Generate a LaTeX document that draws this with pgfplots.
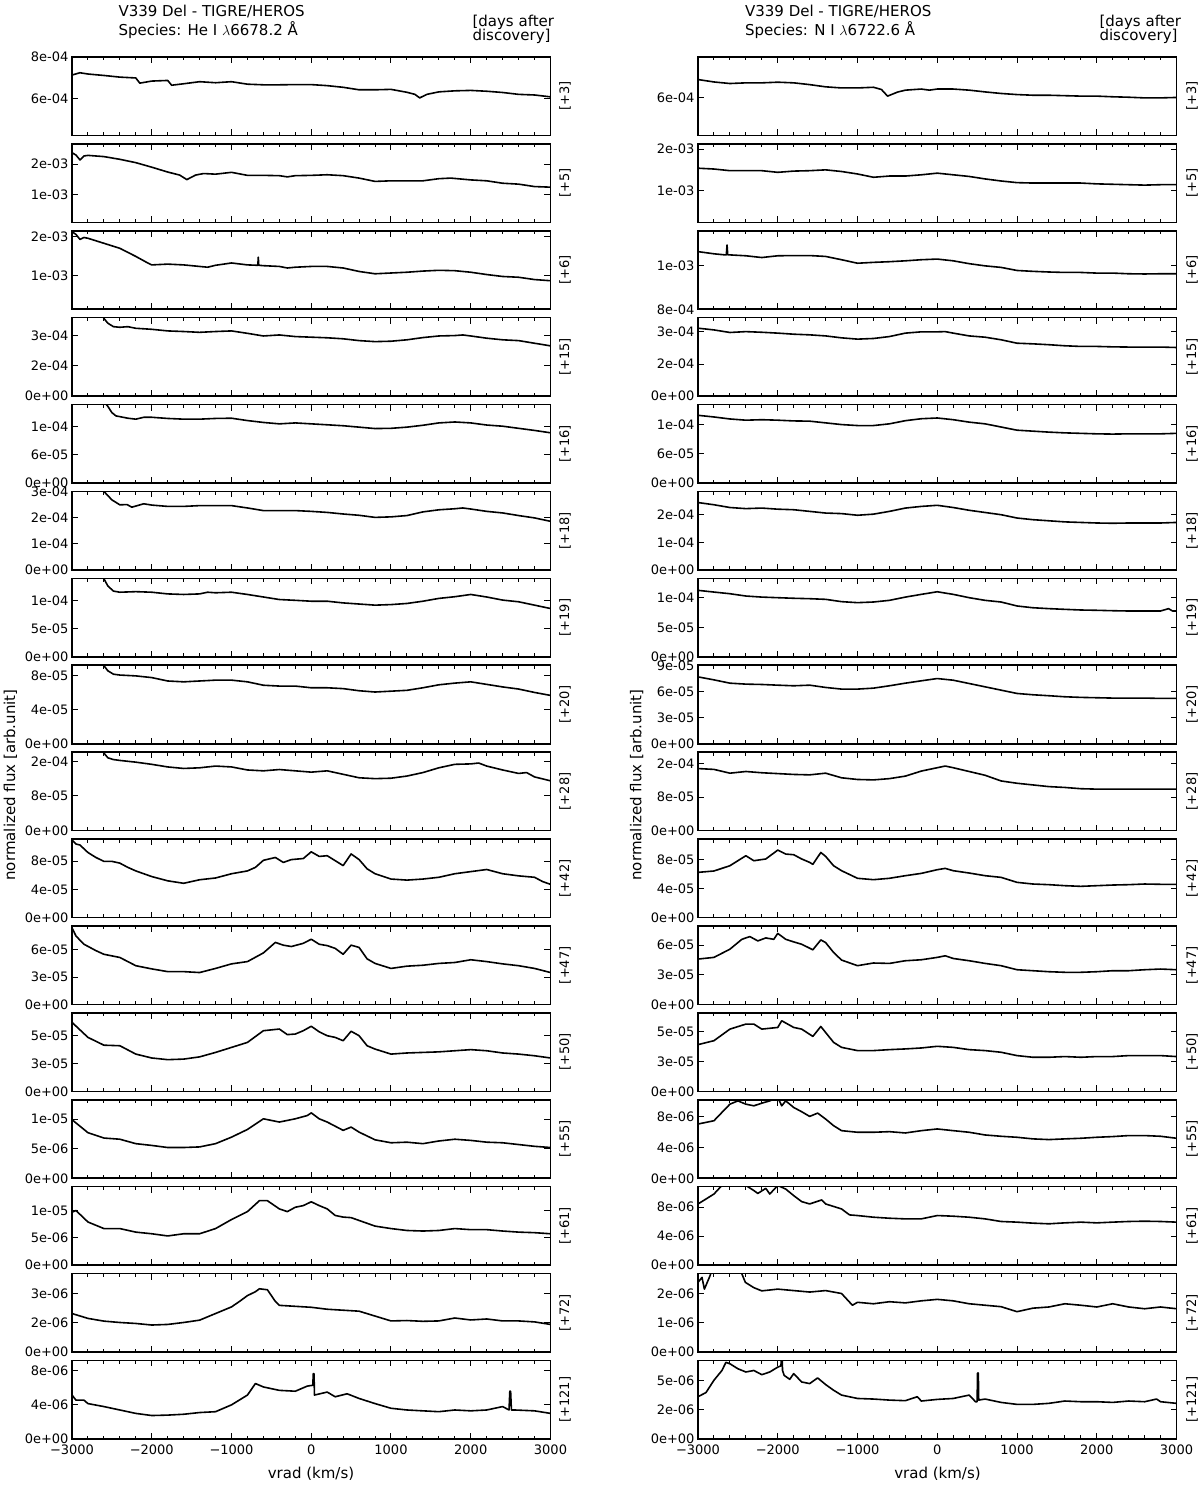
\documentclass[border=0pt]{standalone}
\usepackage{fontspec}
\setmainfont{DejaVu Sans}
\usepackage{pgfplots}
\pgfplotsset{compat=1.18}
\newcommand{\fs}[1]{\fontsize{#1}{#1}\selectfont}
\pgfplotsset{
  panel/.style={
    scale only axis, width=478.5pt, height=78.5pt, anchor=north west,
    xmin=-3000, xmax=3000, ymin=0,
    xtick={-3000,-2000,-1000,0,1000,2000,3000},
    minor x tick num=4,
    xticklabels={},
    axis line style={line width=1.6pt},
    tick style={black, line width=1pt},
    major tick length=6pt, minor tick length=3.5pt,
    tick align=inside,
    yticklabel style={font=\fs{13}},
    xticklabel style={font=\fs{13}, yshift=-2.5pt},
    every axis plot post/.append style={black, line width=1.6pt, line join=round, mark=none},
  },
  bottom/.style={xticklabels={−3000,−2000,−1000,0,1000,2000,3000}},
}
\begin{document}
\begin{tikzpicture}
\useasboundingbox (0,0) rectangle (1200pt,1485pt);
% ================= LEFT COLUMN =================
\begin{axis}[panel, at={(72pt,1428pt)}, ymin=4.22, ymax=8, ytick={6,8}, yticklabels={6e-04,8e-04}]
\addplot coordinates {(-3000,7.13)(-2900,7.24)(-2800,7.18)(-2600,7.11)(-2400,7.03)(-2200,6.99)(-2150,6.74)(-2000,6.84)(-1800,6.87)(-1750,6.64)(-1600,6.71)(-1400,6.81)(-1200,6.76)(-1000,6.81)(-800,6.69)(-600,6.66)(-400,6.66)(-200,6.67)(0,6.67)(200,6.62)(400,6.54)(600,6.42)(800,6.42)(1000,6.44)(1200,6.30)(1300,6.20)(1360,6.03)(1450,6.20)(1600,6.32)(1800,6.37)(2000,6.39)(2200,6.35)(2400,6.29)(2600,6.20)(2800,6.17)(3000,6.08)};
\end{axis}
\begin{axis}[panel, at={(72pt,1341.1pt)}, ymin=0.077, ymax=2.67, ytick={1,2}, yticklabels={1e-03,2e-03}]
\addplot coordinates {(-3000,2.38)(-2950,2.30)(-2900,2.14)(-2850,2.27)(-2800,2.29)(-2600,2.25)(-2400,2.16)(-2200,2.05)(-2000,1.90)(-1800,1.74)(-1650,1.64)(-1560,1.49)(-1450,1.64)(-1350,1.69)(-1200,1.67)(-1000,1.73)(-800,1.63)(-600,1.63)(-400,1.62)(-300,1.58)(-200,1.62)(0,1.63)(200,1.65)(400,1.62)(600,1.54)(800,1.43)(1000,1.45)(1200,1.45)(1400,1.45)(1600,1.52)(1750,1.54)(2000,1.48)(2200,1.45)(2400,1.37)(2600,1.34)(2800,1.26)(3000,1.24)};
\end{axis}
\begin{axis}[panel, at={(72pt,1254.2pt)}, ymin=0.12, ymax=2.154, ytick={1,2}, yticklabels={1e-03,2e-03}]
\addplot coordinates {(-3000,2.13)(-2950,2.06)(-2900,1.93)(-2850,1.98)(-2800,1.96)(-2600,1.83)(-2400,1.70)(-2200,1.49)(-2050,1.32)(-2000,1.27)(-1800,1.29)(-1600,1.27)(-1400,1.23)(-1300,1.21)(-1200,1.26)(-1000,1.32)(-800,1.27)(-670,1.26)(-664,1.47)(-658,1.26)(-600,1.25)(-400,1.23)(-300,1.19)(-200,1.21)(0,1.23)(200,1.23)(400,1.19)(600,1.10)(800,1.04)(1000,1.06)(1200,1.08)(1400,1.11)(1600,1.13)(1800,1.12)(2000,1.08)(2200,1.02)(2400,0.97)(2600,0.95)(2800,0.89)(3000,0.86)};
\end{axis}
\begin{axis}[panel, at={(72pt,1167.3pt)}, ymax=3.885, ytick={0,1.5,3}, yticklabels={0e+00,2e-04,3e-04}]
\addplot coordinates {(-2750,5.0)(-2600,3.85)(-2550,3.61)(-2480,3.44)(-2400,3.41)(-2300,3.44)(-2200,3.36)(-2000,3.31)(-1800,3.23)(-1600,3.20)(-1400,3.16)(-1200,3.20)(-1000,3.23)(-800,3.11)(-600,2.98)(-400,3.03)(-200,2.95)(0,2.92)(200,2.89)(400,2.84)(600,2.75)(800,2.70)(1000,2.72)(1200,2.79)(1400,2.90)(1600,2.98)(1800,3.00)(1900,3.03)(2000,2.98)(2200,2.87)(2400,2.79)(2600,2.75)(2800,2.62)(3000,2.49)};
\end{axis}
\begin{axis}[panel, at={(72pt,1080.4pt)}, ymax=16.7, ytick={0,6,12}, yticklabels={0e+00,6e-05,1e-04}]
\addplot coordinates {(-2700,19)(-2560,16.56)(-2500,15.0)(-2450,14.3)(-2300,13.8)(-2200,13.6)(-2100,14.0)(-2000,14.0)(-1800,13.75)(-1600,13.6)(-1400,13.6)(-1200,13.75)(-1000,13.8)(-800,13.3)(-600,12.9)(-400,12.6)(-200,12.8)(0,12.6)(200,12.4)(400,12.2)(600,11.9)(800,11.6)(1000,11.65)(1200,11.9)(1400,12.3)(1600,12.8)(1800,13.0)(2000,12.8)(2200,12.35)(2400,12.1)(2600,11.65)(2800,11.2)(3000,10.7)};
\end{axis}
\begin{axis}[panel, at={(72pt,993.5pt)}, ymax=3, ytick={0,1,2,3}, yticklabels={0e+00,1e-04,2e-04,3e-04}]
\addplot coordinates {(-2700,3.6)(-2590,2.97)(-2500,2.68)(-2400,2.49)(-2310,2.50)(-2250,2.40)(-2100,2.53)(-2000,2.48)(-1800,2.43)(-1600,2.43)(-1400,2.46)(-1200,2.46)(-1000,2.46)(-800,2.37)(-600,2.27)(-400,2.27)(-200,2.27)(0,2.24)(200,2.20)(400,2.14)(600,2.09)(800,2.01)(1000,2.03)(1200,2.08)(1400,2.22)(1600,2.30)(1800,2.34)(1900,2.37)(2000,2.33)(2200,2.24)(2400,2.18)(2600,2.08)(2800,1.99)(3000,1.86)};
\end{axis}
\begin{axis}[panel, at={(72pt,906.6pt)}, ymax=13.96, ytick={0,5,10}, yticklabels={0e+00,5e-05,1e-04}]
\addplot coordinates {(-2700,17)(-2600,13.9)(-2550,12.6)(-2480,11.7)(-2400,11.5)(-2200,11.6)(-2000,11.5)(-1800,11.2)(-1600,11.1)(-1400,11.2)(-1300,11.5)(-1200,11.4)(-1000,11.5)(-800,11.1)(-600,10.65)(-400,10.2)(-200,10.06)(0,9.9)(200,9.9)(400,9.6)(600,9.4)(800,9.2)(1000,9.3)(1200,9.5)(1400,9.9)(1600,10.4)(1800,10.7)(2000,11.1)(2200,10.65)(2400,10.1)(2600,9.8)(2800,9.2)(3000,8.6)};
\end{axis}
\begin{axis}[panel, at={(72pt,819.7pt)}, ymax=9.25, ytick={0,4,8}, yticklabels={0e+00,4e-05,8e-05}]
\addplot coordinates {(-2700,11)(-2600,9.2)(-2550,8.6)(-2480,8.2)(-2400,8.1)(-2200,8.0)(-2000,7.8)(-1800,7.4)(-1600,7.3)(-1400,7.4)(-1200,7.5)(-1000,7.5)(-800,7.3)(-600,6.9)(-400,6.8)(-200,6.8)(0,6.6)(200,6.6)(400,6.5)(600,6.25)(800,6.1)(1000,6.2)(1200,6.3)(1400,6.6)(1600,6.95)(1800,7.15)(2000,7.3)(2200,7.0)(2400,6.7)(2600,6.45)(2800,6.05)(3000,5.7)};
\end{axis}
\begin{axis}[panel, at={(72pt,732.8pt)}, ymax=18.1, ytick={0,8,16}, yticklabels={0e+00,8e-05,2e-04}]
\addplot coordinates {(-2700,21)(-2600,17.9)(-2550,16.8)(-2480,16.4)(-2400,16.2)(-2200,15.8)(-2000,15.3)(-1800,14.7)(-1600,14.35)(-1400,14.5)(-1200,14.9)(-1000,14.7)(-800,14.0)(-600,13.8)(-400,14.1)(-200,13.8)(0,13.5)(200,13.8)(400,13.0)(600,12.2)(800,12.0)(1000,12.1)(1200,12.6)(1400,13.4)(1600,14.5)(1800,15.3)(2000,15.4)(2100,15.6)(2200,14.9)(2400,14.0)(2600,13.2)(2700,13.4)(2800,12.4)(3000,11.5)};
\end{axis}
\begin{axis}[panel, at={(72pt,645.9pt)}, ymax=11.1, ytick={0,4,8}, yticklabels={0e+00,4e-05,8e-05}]
\addplot coordinates {(-3000,10.96)(-2950,10.4)(-2900,10.26)(-2800,9.2)(-2700,8.5)(-2600,7.95)(-2500,7.95)(-2400,7.7)(-2300,7.1)(-2200,6.6)(-2000,5.8)(-1800,5.2)(-1600,4.85)(-1400,5.35)(-1200,5.6)(-1000,6.2)(-800,6.6)(-700,7.1)(-600,8.1)(-450,8.5)(-350,7.8)(-250,8.2)(-100,8.35)(0,9.3)(100,8.65)(200,8.75)(300,8.05)(400,7.35)(500,9.0)(600,8.2)(700,6.9)(800,6.2)(1000,5.45)(1200,5.3)(1400,5.45)(1600,5.7)(1800,6.2)(2000,6.5)(2200,6.8)(2400,6.2)(2600,5.9)(2800,5.7)(2900,5.1)(3000,4.7)};
\end{axis}
\begin{axis}[panel, at={(72pt,559pt)}, ymax=8.6, ytick={0,3,6}, yticklabels={0e+00,3e-05,6e-05}]
\addplot coordinates {(-3000,8.4)(-2950,7.5)(-2850,6.6)(-2700,5.9)(-2600,5.5)(-2400,5.15)(-2200,4.25)(-2000,3.9)(-1800,3.6)(-1600,3.6)(-1400,3.5)(-1200,3.95)(-1000,4.45)(-800,4.7)(-600,5.65)(-450,6.8)(-350,6.5)(-250,6.35)(-100,6.7)(0,7.15)(100,6.6)(200,6.45)(300,6.15)(400,5.5)(500,6.5)(600,6.25)(700,5.0)(800,4.5)(1000,3.95)(1200,4.2)(1400,4.3)(1600,4.5)(1800,4.6)(2000,4.9)(2200,4.7)(2400,4.45)(2600,4.25)(2800,3.95)(3000,3.5)};
\end{axis}
\begin{axis}[panel, at={(72pt,472.1pt)}, ymax=7.05, ytick={0,2.5,5}, yticklabels={0e+00,3e-05,5e-05}]
\addplot coordinates {(-3000,6.2)(-2800,4.85)(-2600,4.15)(-2400,4.1)(-2200,3.35)(-2000,3.0)(-1800,2.85)(-1600,2.9)(-1400,3.1)(-1200,3.5)(-1000,3.95)(-800,4.4)(-600,5.45)(-400,5.6)(-300,5.1)(-200,5.15)(-100,5.45)(0,5.85)(100,5.35)(200,5.0)(300,4.85)(400,4.55)(500,5.4)(600,5.0)(700,4.1)(800,3.8)(1000,3.35)(1200,3.45)(1400,3.5)(1600,3.55)(1800,3.65)(2000,3.75)(2200,3.65)(2400,3.45)(2600,3.35)(2800,3.2)(3000,3.0)};
\end{axis}
\begin{axis}[panel, at={(72pt,385.2pt)}, ymax=13.26, ytick={0,5,10}, yticklabels={0e+00,5e-06,1e-05}]
\addplot coordinates {(-3000,9.9)(-2900,8.8)(-2800,7.7)(-2600,6.8)(-2400,6.6)(-2200,5.85)(-2000,5.55)(-1800,5.2)(-1600,5.2)(-1400,5.3)(-1200,5.85)(-1000,6.95)(-800,8.25)(-600,10.05)(-400,9.5)(-200,10.05)(-50,10.6)(0,11.05)(100,10.05)(200,9.5)(300,8.8)(400,8.1)(500,8.65)(600,7.8)(800,6.5)(1000,6.0)(1200,6.1)(1400,5.85)(1600,6.3)(1800,6.6)(2000,6.4)(2200,6.1)(2400,6.0)(2600,5.7)(2800,5.4)(3000,5.2)};
\end{axis}
\begin{axis}[panel, at={(72pt,298.3pt)}, ymax=14.36, ytick={0,5,10}, yticklabels={0e+00,5e-06,1e-05}]
\addplot coordinates {(-3000,9.7)(-2950,10.0)(-2800,7.9)(-2600,6.7)(-2400,6.7)(-2200,6.05)(-2000,5.75)(-1800,5.35)(-1600,5.75)(-1400,5.75)(-1200,6.7)(-1000,8.35)(-800,9.8)(-650,11.8)(-550,11.8)(-400,10.3)(-300,9.8)(-200,10.6)(-100,10.9)(0,11.6)(100,10.9)(200,10.3)(300,9.1)(400,8.8)(500,8.7)(800,7.15)(1000,6.7)(1200,6.35)(1400,6.25)(1600,6.35)(1800,6.7)(2000,6.5)(2200,6.5)(2400,6.25)(2600,6.05)(2800,5.95)(3000,5.75)};
\end{axis}
\begin{axis}[panel, at={(72pt,211.4pt)}, ymax=4.03, ytick={0,1.5,3}, yticklabels={0e+00,2e-06,3e-06}]
\addplot coordinates {(-3000,1.98)(-2800,1.73)(-2600,1.59)(-2400,1.52)(-2200,1.47)(-2000,1.39)(-1800,1.42)(-1600,1.52)(-1400,1.64)(-1200,1.98)(-1000,2.32)(-900,2.6)(-800,2.9)(-700,3.1)(-650,3.25)(-550,3.2)(-500,2.9)(-450,2.6)(-400,2.4)(-200,2.35)(0,2.3)(200,2.2)(400,2.15)(600,2.1)(800,1.85)(1000,1.6)(1200,1.62)(1400,1.58)(1600,1.6)(1800,1.75)(2000,1.65)(2200,1.7)(2400,1.6)(2600,1.6)(2800,1.55)(3000,1.42)};
\end{axis}
\begin{axis}[panel, bottom, at={(72pt,124.5pt)}, ymax=9.2, ytick={0,4,8}, yticklabels={0e+00,4e-06,8e-06}]
\addplot coordinates {(-3000,5.15)(-2950,4.55)(-2850,4.55)(-2800,4.15)(-2600,3.8)(-2400,3.4)(-2200,3.0)(-2000,2.75)(-1800,2.8)(-1600,2.9)(-1400,3.1)(-1200,3.2)(-1000,4.0)(-800,5.15)(-700,6.5)(-600,6.1)(-400,5.7)(-200,5.6)(-50,6.2)(20,6.3)(25,7.65)(35,7.65)(40,5.15)(200,5.5)(300,4.95)(450,5.3)(600,4.75)(800,4.15)(1000,3.6)(1200,3.4)(1400,3.3)(1600,3.2)(1800,3.4)(2000,3.3)(2200,3.4)(2400,3.8)(2480,3.4)(2490,5.6)(2500,5.6)(2510,3.4)(2550,3.4)(2800,3.3)(3000,3.0)};
\end{axis}
% ================= RIGHT COLUMN =================
\begin{axis}[panel, at={(698pt,1428pt)}, ymin=4.3, ymax=7.85, ytick={6}, yticklabels={6e-04}]
\addplot coordinates {(-3000,6.83)(-2800,6.72)(-2600,6.65)(-2400,6.68)(-2200,6.68)(-2000,6.71)(-1800,6.68)(-1600,6.6)(-1400,6.5)(-1200,6.45)(-1000,6.45)(-800,6.48)(-700,6.38)(-623,6.08)(-500,6.26)(-400,6.35)(-200,6.4)(-100,6.35)(0,6.4)(200,6.4)(400,6.35)(600,6.27)(800,6.2)(1000,6.15)(1200,6.12)(1400,6.12)(1600,6.1)(1800,6.08)(2000,6.08)(2200,6.05)(2400,6.03)(2600,6.0)(2800,6.0)(3000,6.02)};
\end{axis}
\begin{axis}[panel, at={(698pt,1341.1pt)}, ymin=0.226, ymax=2.13, ytick={1,2}, yticklabels={1e-03,2e-03}]
\addplot coordinates {(-3000,1.54)(-2800,1.52)(-2600,1.48)(-2400,1.48)(-2200,1.48)(-2100,1.46)(-2000,1.44)(-1800,1.47)(-1600,1.48)(-1400,1.5)(-1200,1.46)(-1000,1.4)(-800,1.32)(-600,1.35)(-400,1.35)(-200,1.38)(0,1.42)(200,1.38)(400,1.34)(600,1.28)(800,1.23)(1000,1.19)(1200,1.18)(1400,1.18)(1600,1.18)(1800,1.18)(2000,1.16)(2200,1.15)(2400,1.14)(2600,1.13)(2800,1.14)(3000,1.14)};
\end{axis}
\begin{axis}[panel, at={(698pt,1254.2pt)}, ymin=8, ymax=11.58, ytick={8,10}, yticklabels={8e-04,1e-03}]
\addplot coordinates {(-3000,10.63)(-2800,10.53)(-2660,10.48)(-2645,10.48)(-2636,10.93)(-2627,10.48)(-2600,10.48)(-2400,10.44)(-2200,10.36)(-2000,10.44)(-1800,10.45)(-1600,10.45)(-1400,10.41)(-1200,10.26)(-1000,10.1)(-800,10.14)(-600,10.17)(-400,10.21)(-200,10.26)(0,10.29)(200,10.21)(400,10.08)(600,9.98)(800,9.91)(1000,9.77)(1200,9.73)(1400,9.7)(1600,9.68)(1800,9.68)(2000,9.65)(2200,9.65)(2400,9.62)(2600,9.61)(2800,9.62)(3000,9.62)};
\end{axis}
\begin{axis}[panel, at={(698pt,1167.3pt)}, ymax=3.66, ytick={0,1.5,3}, yticklabels={0e+00,2e-04,3e-04}]
\addplot coordinates {(-3000,3.17)(-2800,3.09)(-2600,2.97)(-2400,3.01)(-2200,2.98)(-2000,2.94)(-1800,2.89)(-1600,2.86)(-1400,2.81)(-1200,2.72)(-1000,2.66)(-800,2.69)(-600,2.78)(-400,2.94)(-200,3.0)(0,3.0)(100,3.01)(200,2.94)(400,2.81)(600,2.75)(800,2.63)(1000,2.47)(1200,2.44)(1400,2.4)(1600,2.35)(1800,2.32)(2000,2.32)(2200,2.3)(2400,2.29)(2600,2.29)(2800,2.29)(3000,2.27)};
\end{axis}
\begin{axis}[panel, at={(698pt,1080.4pt)}, ymax=16.1, ytick={0,6,12}, yticklabels={0e+00,6e-05,1e-04}]
\addplot coordinates {(-3000,13.9)(-2800,13.56)(-2600,13.15)(-2400,12.9)(-2200,13.0)(-2000,12.9)(-1800,12.75)(-1600,12.7)(-1400,12.35)(-1200,12.0)(-1000,11.8)(-800,11.8)(-600,12.15)(-400,12.8)(-200,13.2)(0,13.35)(200,13.0)(400,12.5)(600,12.15)(800,11.5)(1000,10.85)(1200,10.65)(1400,10.45)(1600,10.3)(1800,10.2)(2000,10.1)(2200,10.05)(2400,10.1)(2600,10.1)(2800,10.1)(3000,10.2)};
\end{axis}
\begin{axis}[panel, at={(698pt,993.5pt)}, ymax=2.84, ytick={0,1,2}, yticklabels={0e+00,1e-04,2e-04}]
\addplot coordinates {(-3000,2.44)(-2800,2.36)(-2600,2.26)(-2400,2.22)(-2200,2.24)(-2000,2.2)(-1800,2.18)(-1600,2.12)(-1400,2.06)(-1200,2.04)(-1000,1.98)(-800,2.02)(-600,2.12)(-400,2.24)(-200,2.3)(0,2.34)(200,2.26)(400,2.16)(600,2.08)(800,2.0)(1000,1.88)(1200,1.82)(1400,1.78)(1600,1.74)(1800,1.72)(2000,1.7)(2200,1.69)(2400,1.7)(2600,1.7)(2800,1.7)(3000,1.72)};
\end{axis}
\begin{axis}[panel, at={(698pt,906.6pt)}, ymax=13.26, ytick={0,5,10}, yticklabels={0e+00,5e-05,1e-04}]
\addplot coordinates {(-3000,11.24)(-2800,10.95)(-2600,10.67)(-2400,10.28)(-2200,10.1)(-2000,10.0)(-1800,9.9)(-1600,9.83)(-1400,9.72)(-1200,9.33)(-1000,9.16)(-800,9.27)(-600,9.55)(-400,10.1)(-200,10.56)(0,11.0)(200,10.56)(400,10.0)(600,9.55)(800,9.27)(1000,8.6)(1200,8.3)(1400,8.15)(1600,8.03)(1800,7.92)(2000,7.87)(2200,7.8)(2400,7.75)(2600,7.75)(2800,7.75)(2900,8.15)(2950,7.75)(3000,7.75)};
\end{axis}
\begin{axis}[panel, at={(698pt,819.7pt)}, ymax=9, ytick={0,3,6,9}, yticklabels={0e+00,3e-05,6e-05,9e-05}]
\addplot coordinates {(-3000,7.67)(-2800,7.33)(-2600,6.95)(-2400,6.84)(-2200,6.8)(-2000,6.72)(-1800,6.65)(-1600,6.72)(-1400,6.46)(-1200,6.27)(-1000,6.27)(-800,6.38)(-600,6.65)(-400,6.95)(-200,7.22)(0,7.48)(200,7.29)(400,6.91)(600,6.53)(800,6.15)(1000,5.77)(1200,5.62)(1400,5.51)(1600,5.39)(1800,5.32)(2000,5.28)(2200,5.24)(2400,5.24)(2600,5.24)(2800,5.2)(3000,5.2)};
\end{axis}
\begin{axis}[panel, at={(698pt,732.8pt)}, ymax=18.7, ytick={0,8,16}, yticklabels={0e+00,8e-05,2e-04}]
\addplot coordinates {(-3000,14.8)(-2800,14.6)(-2600,13.7)(-2400,14.1)(-2200,13.8)(-2000,13.6)(-1800,13.4)(-1600,13.3)(-1400,13.7)(-1200,12.6)(-1000,12.2)(-800,12.1)(-600,12.4)(-400,13.0)(-200,14.2)(0,15.0)(100,15.4)(200,15.0)(400,14.1)(600,13.2)(800,11.85)(1000,11.3)(1200,10.9)(1400,10.5)(1600,10.3)(1800,10.0)(2000,9.9)(2200,9.9)(2400,9.9)(2600,9.9)(2800,9.9)(3000,9.9)};
\end{axis}
\begin{axis}[panel, at={(698pt,645.9pt)}, ymax=10.85, ytick={0,4,8}, yticklabels={0e+00,4e-05,8e-05}]
\addplot coordinates {(-3000,6.25)(-2800,6.44)(-2600,7.17)(-2400,8.55)(-2300,7.86)(-2150,8.1)(-2000,9.33)(-1900,8.78)(-1800,8.69)(-1700,8.1)(-1600,7.63)(-1560,7.36)(-1460,9.0)(-1400,8.46)(-1300,7.17)(-1200,6.48)(-1000,5.43)(-800,5.24)(-600,5.43)(-400,5.79)(-200,6.11)(0,6.62)(100,6.8)(200,6.48)(400,6.16)(600,5.79)(800,5.56)(1000,4.87)(1200,4.64)(1400,4.55)(1600,4.41)(1800,4.32)(2000,4.41)(2200,4.5)(2400,4.55)(2600,4.64)(2800,4.6)(3000,4.6)};
\end{axis}
\begin{axis}[panel, at={(698pt,559pt)}, ymax=7.95, ytick={0,3,6}, yticklabels={0e+00,3e-05,6e-05}]
\addplot coordinates {(-3000,4.6)(-2800,4.77)(-2600,5.6)(-2450,6.6)(-2350,6.88)(-2250,6.44)(-2150,6.74)(-2050,6.6)(-2000,7.2)(-1900,6.6)(-1800,6.34)(-1700,6.1)(-1560,5.54)(-1460,6.54)(-1400,6.27)(-1300,5.27)(-1200,4.5)(-1000,3.93)(-800,4.2)(-600,4.16)(-400,4.43)(-200,4.53)(0,4.77)(100,4.93)(200,4.66)(400,4.43)(600,4.16)(800,3.93)(1000,3.52)(1200,3.42)(1400,3.32)(1600,3.26)(1800,3.26)(2000,3.32)(2200,3.42)(2400,3.42)(2600,3.52)(2800,3.59)(3000,3.52)};
\end{axis}
\begin{axis}[panel, at={(698pt,472.1pt)}, ymax=6.58, ytick={0,2.5,5}, yticklabels={0e+00,3e-05,5e-05}]
\addplot coordinates {(-3000,3.92)(-2800,4.25)(-2600,5.22)(-2400,5.64)(-2300,5.64)(-2200,5.22)(-2000,5.36)(-1950,5.92)(-1800,5.36)(-1700,5.22)(-1560,4.61)(-1460,5.44)(-1300,4.11)(-1200,3.69)(-1000,3.42)(-800,3.42)(-600,3.5)(-400,3.56)(-200,3.64)(0,3.78)(200,3.69)(400,3.5)(600,3.42)(800,3.28)(1000,3.0)(1200,2.86)(1400,2.86)(1600,2.92)(1800,2.86)(2000,2.92)(2200,2.92)(2400,3.0)(2600,3.0)(2800,3.0)(3000,2.92)};
\end{axis}
\begin{axis}[panel, at={(698pt,385.2pt)}, ymax=10.2, ytick={0,4,8}, yticklabels={0e+00,4e-06,8e-06}]
\addplot coordinates {(-3000,7.05)(-2800,7.48)(-2700,8.56)(-2600,9.63)(-2500,10.06)(-2400,9.63)(-2300,9.42)(-2200,9.76)(-2100,10.06)(-2000,10.5)(-1950,9.42)(-1900,10.06)(-1800,9.2)(-1700,8.65)(-1600,8.04)(-1500,8.47)(-1400,7.7)(-1300,6.84)(-1200,6.19)(-1000,5.98)(-800,5.98)(-600,6.06)(-400,5.89)(-200,6.19)(0,6.41)(200,6.19)(400,5.98)(600,5.63)(800,5.46)(1000,5.33)(1200,5.12)(1400,5.03)(1600,5.12)(1800,5.2)(2000,5.33)(2200,5.42)(2400,5.55)(2600,5.55)(2800,5.46)(3000,5.2)};
\end{axis}
\begin{axis}[panel, at={(698pt,298.3pt)}, ymax=10.83, ytick={0,4,8}, yticklabels={0e+00,4e-06,8e-06}]
\addplot coordinates {(-3000,8.45)(-2900,9.13)(-2800,9.82)(-2700,11.0)(-2500,11.2)(-2400,11.0)(-2300,10.3)(-2250,9.9)(-2150,10.6)(-2100,9.82)(-2000,11.0)(-1900,10.5)(-1800,9.6)(-1700,8.77)(-1600,8.45)(-1450,9.0)(-1400,8.45)(-1200,7.76)(-1100,6.94)(-1000,6.85)(-800,6.62)(-600,6.48)(-400,6.39)(-200,6.39)(0,6.85)(200,6.76)(400,6.62)(600,6.39)(800,6.03)(1000,5.94)(1200,5.8)(1400,5.71)(1600,5.84)(1800,5.94)(2000,5.84)(2200,5.94)(2400,6.03)(2600,6.07)(2800,6.03)(3000,5.94)};
\end{axis}
\begin{axis}[panel, at={(698pt,211.4pt)}, ymax=2.68, ytick={0,1,2}, yticklabels={0e+00,1e-06,2e-06}]
\addplot coordinates {(-3000,2.38)(-2950,2.55)(-2920,2.15)(-2850,2.6)(-2800,3.0)(-2500,3.0)(-2406,2.38)(-2300,2.2)(-2200,2.09)(-2000,2.15)(-1800,2.1)(-1600,2.05)(-1400,2.1)(-1200,2.0)(-1064,1.6)(-1000,1.7)(-800,1.65)(-600,1.72)(-400,1.68)(-200,1.75)(0,1.8)(200,1.75)(400,1.65)(600,1.6)(800,1.55)(1000,1.38)(1200,1.5)(1400,1.54)(1600,1.65)(1800,1.6)(2000,1.54)(2200,1.65)(2400,1.54)(2600,1.48)(2800,1.54)(3000,1.48)};
\end{axis}
\begin{axis}[panel, bottom, at={(698pt,124.5pt)}, ymax=6.76, ytick={0,2.5,5}, yticklabels={0e+00,2e-06,5e-06}]
\addplot coordinates {(-3000,3.64)(-2900,4.0)(-2800,5.06)(-2700,5.9)(-2650,6.6)(-2600,6.48)(-2500,6.05)(-2400,5.77)(-2300,5.9)(-2200,5.54)(-2100,5.77)(-2000,6.19)(-1960,6.3)(-1955,7.0)(-1945,7.0)(-1940,5.9)(-1920,5.48)(-1850,5.14)(-1800,5.63)(-1700,4.91)(-1600,4.77)(-1500,5.26)(-1400,4.69)(-1300,4.2)(-1200,3.78)(-1000,3.49)(-800,3.44)(-600,3.35)(-400,3.3)(-250,3.64)(-200,3.27)(0,3.41)(200,3.49)(400,3.78)(480,3.21)(500,3.21)(505,5.68)(515,5.68)(520,3.35)(600,3.44)(800,3.15)(1000,2.98)(1200,2.98)(1400,3.07)(1600,3.27)(1800,3.21)(2000,3.21)(2200,3.15)(2400,3.27)(2600,3.21)(2750,3.44)(2800,3.21)(3000,3.07)};
\end{axis}
% ================= TEXT =================
\foreach \yy/\lab in {1388.75/+3,1301.85/+5,1214.95/+6,1128.05/+15,1041.15/+16,954.25/+18,867.35/+19,780.45/+20,693.55/+28,606.65/+42,519.75/+47,432.85/+50,345.95/+55,259.05/+61,172.15/+72,85.25/+121}{
  \node[rotate=90, font=\fs{13}] at (565pt,\yy pt) {[\lab]};
  \node[rotate=90, font=\fs{13}] at (1192pt,\yy pt) {[\lab]};
}
\node[anchor=base west, font=\fs{15}] at (115pt,1468pt) {V339 Del - TIGRE/HEROS};
\node[anchor=base west, font=\fs{15}] at (115pt,1449pt) {Species: He I $\lambda$6678.2 Å};
\node[anchor=base west, font=\fs{15}] at (469pt,1458.5pt) {[days after};
\node[anchor=base west, font=\fs{15}] at (469pt,1444pt) {discovery]};
\node[anchor=base west, font=\fs{15}] at (741.6pt,1468pt) {V339 Del - TIGRE/HEROS};
\node[anchor=base west, font=\fs{15}] at (741.6pt,1449pt) {Species: N I $\lambda$6722.6 Å};
\node[anchor=base west, font=\fs{15}] at (1096pt,1458.5pt) {[days after};
\node[anchor=base west, font=\fs{15}] at (1096pt,1444pt) {discovery]};
\node[rotate=90, font=\fs{15}] at (10.5pt,700pt) {normalized flux [arb.unit]};
\node[rotate=90, font=\fs{15}] at (636.7pt,700pt) {normalized flux [arb.unit]};
\node[font=\fs{15}] at (311pt,11pt) {vrad (km/s)};
\node[font=\fs{15}] at (937.5pt,11pt) {vrad (km/s)};
\end{tikzpicture}
\end{document}
